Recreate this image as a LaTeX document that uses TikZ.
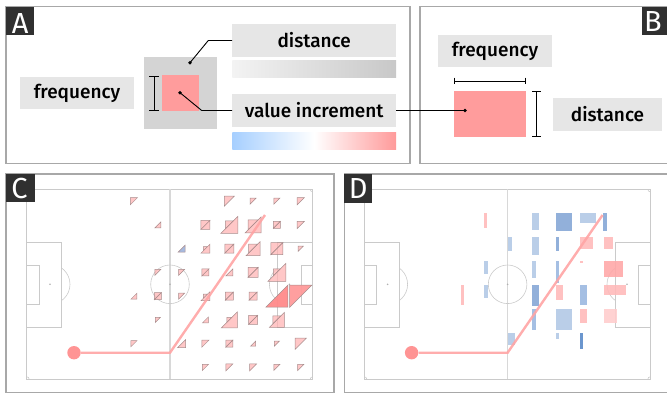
\documentclass[tikz,border=0pt]{standalone}
\usepackage{fontspec}
\setmainfont{Fira Sans}[UprightFont={* Medium}]
\newfontfamily\panellabfont{Fira Sans}
\definecolor{framec}{HTML}{A8A8A8}
\definecolor{gboxc}{HTML}{E6E6E6}
\definecolor{gsqc}{HTML}{D4D4D4}
\definecolor{pinkc}{HTML}{FF9C9C}
\definecolor{labc}{HTML}{303030}
\definecolor{pitchc}{HTML}{CACACA}
\definecolor{halfc}{HTML}{D8D8D8}
\definecolor{spotc}{HTML}{B0B0B0}
\definecolor{runc}{HTML}{FFA4A4}
\definecolor{ballc}{HTML}{FF9494}
\definecolor{trifill}{HTML}{FFB4B4}
\definecolor{triedge}{HTML}{A88C8C}
\definecolor{tristrong}{HTML}{FF8A8A}
\definecolor{trimid}{HTML}{FF9A9A}
\definecolor{triblue}{HTML}{9DB3DC}
\definecolor{barlb}{HTML}{A6CFFF}
\definecolor{barpk}{HTML}{FF9A9A}
\definecolor{barg1}{HTML}{F3F3F3}
\definecolor{barg2}{HTML}{C8C8C8}
\definecolor{bla}{HTML}{B3C9E6}
\definecolor{blb}{HTML}{9BB8E0}
\definecolor{blc}{HTML}{86A7D6}
\definecolor{bld}{HTML}{5B8BC9}
\definecolor{pka}{HTML}{FFCDCD}
\definecolor{pkb}{HTML}{FFBABA}
\definecolor{pkc}{HTML}{FFA8A8}

\newcommand{\celltri}[5]{%
  \pgfmathsetmacro{\trX}{26.7+23.83*(#1+0.5)}%
  \pgfmathsetmacro{\trY}{189.3+23.75*(#2+0.5)}%
  \pgfmathsetmacro{\trA}{#3/2}%
  \pgfmathsetmacro{\trB}{#4/2}%
  \ifdim #3pt>0pt
    \filldraw[#5] ({\trX-\trA},{\trY-\trA}) -- ({\trX+\trA},{\trY-\trA}) -- ({\trX-\trA},{\trY+\trA}) -- cycle;
  \fi
  \ifdim #4pt>0pt
    \filldraw[#5] ({\trX+\trB},{\trY+\trB}) -- ({\trX-\trB},{\trY+\trB}) -- ({\trX+\trB},{\trY-\trB}) -- cycle;
  \fi
}

\newcommand{\drawpitchat}[1]{%
\begin{scope}[xshift=#1pt]
  \draw[pitchl] (26.7,189.3) rectangle (312.7,379.3);
  \draw[halfl] (170,189.3) -- (170,379.3);
  \draw[pitchl] (170,284.3) circle[radius=19.3pt];
  \fill[spotc] (170,284.3) circle[radius=0.9pt];
  \draw[pitchl] (26.7,241.8) rectangle (61.7,326.8);
  \draw[pitchl] (26.7,264.8) rectangle (39,303.8);
  \fill[spotc] (50,284.3) circle[radius=0.9pt];
  \draw[pitchl] (277.3,241.8) rectangle (312.7,326.8);
  \draw[pitchl] (301,264.8) rectangle (312.7,303.8);
  \fill[spotc] (289.4,284.3) circle[radius=0.9pt];
  \begin{scope}
    \clip (61.7,250) rectangle (80,320);
    \draw[pitchl] (50,284.3) circle[radius=20pt];
  \end{scope}
  \begin{scope}
    \clip (259,250) rectangle (277.3,320);
    \draw[pitchl] (289.4,284.3) circle[radius=20pt];
  \end{scope}
  \begin{scope}
    \clip (26.7,189.3) rectangle (312.7,379.3);
    \foreach \px/\py in {26.7/189.3, 312.7/189.3, 26.7/379.3, 312.7/379.3}
      \draw[pitchl] (\px,\py) circle[radius=2.5pt];
  \end{scope}
\end{scope}}

\newcommand{\drawrun}[2]{%
\begin{scope}[xshift=#1pt]
  \coordinate (turn#2) at (170,352.7);
  \coordinate (end#2) at (265,215);
  \node[ball] (ball#2) at (74,352.7) {};
  \draw[runl] (ball#2) -- (turn#2) -- (end#2);
\end{scope}}

\begin{document}
\begin{tikzpicture}[x=1pt,y=-1pt,
  panel/.style={draw=framec, line width=1.1pt},
  labbox/.style={fill=labc, inner sep=0, draw=none},
  labtxt/.style={text=white, font=\panellabfont\fontsize{29}{31}\selectfont, anchor=base, inner sep=0},
  gbox/.style={fill=gboxc, inner sep=0, draw=none, font=\fontsize{19}{22}\selectfont},
  conn/.style={line width=0.9pt, draw=black},
  dotc/.style={circle, fill=black, inner sep=0, minimum size=3.6pt},
  brk/.style={line width=0.9pt, draw=black},
  pitchl/.style={draw=pitchc, line width=0.6pt},
  halfl/.style={draw=halfc, line width=1.4pt},
  runl/.style={draw=runc, line width=2.4pt, draw opacity=0.9},
  ball/.style={circle, fill=ballc, inner sep=0, minimum size=13.4pt},
  tp/.style={fill=trifill, fill opacity=0.75, draw=triedge, line width=0.5pt},
  ts/.style={fill=tristrong, fill opacity=0.95, draw=triedge, line width=0.5pt},
  tm/.style={fill=trimid, fill opacity=0.95, draw=triedge, line width=0.5pt},
  tb/.style={fill=triblue, fill opacity=0.9, draw=triedge, line width=0.5pt}
]
\useasboundingbox (0,0) rectangle (667,394);
\clip (0,0) rectangle (667,394);

% ---------- Panel A ----------
\draw[panel] (6,6.7) rectangle (410,163.3);
\node[labbox, minimum width=28.3pt, minimum height=28.3pt] (boxA) at (20.2,20.9) {};
\node[labtxt] (letA) at (20.2,33.3) {A};

\node[gbox, minimum width=114pt, minimum height=32pt] (freqA) at (77,93.3) {frequency};
\node[fill=gsqc, inner sep=0, minimum width=72.4pt, minimum height=72pt] (greyA) at (180.5,93.3) {};
\node[fill=pinkc, inner sep=0, minimum width=36.7pt, minimum height=36pt] (pinkA) at (180.7,93.3) {};
\draw[brk] (149.3,76) -- (158.7,76) (154,76) -- (154,110.7) (149.3,110.7) -- (158.7,110.7);

\node[gbox, minimum width=163.7pt, minimum height=32.4pt] (distA) at (314.2,40.5) {distance};
\node[inner sep=0, minimum width=163.7pt, minimum height=16.7pt, left color=barg1, right color=barg2] (barA) at (314.2,69.3) {};
\node[gbox, minimum width=163.7pt, minimum height=32.4pt] (valA) at (314.2,110.5) {value increment};
\node[inner sep=0, minimum width=163.7pt, minimum height=16.7pt, left color=barlb, right color=barpk, middle color=white] (barV) at (314.2,140.7) {};

\node[dotc] (dotD) at (190,62.7) {};
\coordinate (kD) at (208.3,40.5);
\draw[conn] (dotD.center) -- (kD) -- (distA.west);
\node[dotc] (dotV) at (180,92.7) {};
\coordinate (kV) at (201.7,110.5);
\draw[conn] (dotV.center) -- (kV) -- (valA.west);

% ---------- Panel B ----------
\draw[panel] (420,6.7) rectangle (672,163.3);
\node[labbox, minimum width=25pt, minimum height=27.7pt] (boxB) at (654.5,21.2) {};
\node[labtxt] (letB) at (653,31.8) {B};

\node[gbox, minimum width=113.4pt, minimum height=32.3pt] (freqB) at (495,51.2) {frequency};
\node[fill=pinkc, inner sep=0, minimum width=71.7pt, minimum height=45.7pt] (pinkB) at (489.9,113.9) {};
\node[gbox, minimum width=108.4pt, minimum height=32.4pt] (distB) at (607.5,114.5) {distance};
\draw[brk] (454,77.7) -- (454,84.3) (454,81) -- (525.7,81) (525.7,77.7) -- (525.7,84.3);
\draw[brk] (532.3,91) -- (541.1,91) (536.7,91) -- (536.7,136.7) (532.3,136.7) -- (541.1,136.7);
\node[dotc] (dotB) at (465,110.5) {};
\draw[conn] (valA.east) -- (dotB.center);

% ---------- Panel C ----------
\draw[panel] (6,174) rectangle (334,392.6);
\drawpitchat{0}
\foreach \tcol/\trow/\tsa/\tsb/\tst in {
  4/0/7/0/tp, 8/0/10/0/tp, 9/0/6/0/tp, 10/0/6/0/tp, 11/0/7/0/tp,
  5/1/0/6/tp, 7/1/9/9/tp, 8/1/8/17/tp, 9/1/10/16/tp, 10/1/7/7/tp, 11/1/7/0/tp,
  6/2/0/7/tb, 7/2/4/9/tp, 8/2/9/9/tp, 9/2/9/14/tp, 10/2/12/12/tp, 11/2/5/0/tp,
  5/3/6/0/tp, 6/3/6/0/tp, 7/3/7/7/tp, 8/3/0/7/tp, 9/3/10/10/tp, 10/3/7/18/tp,
  4/4/0/6/tp, 5/4/7/7/tp, 6/4/6/0/tp, 7/4/4/9/tp, 8/4/8/8/tp, 9/4/8/8/tp, 10/4/0/22/ts, 11/4/22/0/tm,
  5/5/5/0/tp, 7/5/0/6/tp, 8/5/5/16/tp, 9/5/9/9/tp, 10/5/8/15/tp,
  4/6/6/0/tp, 6/6/0/8/tp, 7/6/7/0/tp, 8/6/7/7/tp, 9/6/0/5/tp, 10/6/5/0/tp, 11/6/11/0/tp,
  7/7/6/0/tp, 8/7/7/0/tp, 9/7/7/0/tp, 10/7/6/0/tp, 11/7/6/0/tp}
  {\celltri{\tcol}{\trow}{\tsa}{\tsb}{\tst}}
\drawrun{0}{C}
\node[labbox, minimum width=29pt, minimum height=28pt] (boxC) at (20.5,188) {};
\node[labtxt] (letC) at (19.5,198.2) {C};

% ---------- Panel D ----------
\draw[panel] (344.3,174) rectangle (672,392.7);
\drawpitchat{337.6}
\foreach \xa/\ya/\xb/\yb/\cc in {
  484.3/213/487.3/228/pkb, 532.3/213/539/229.7/bla, 556/213/572/230.7/blc,
  580/213/595.7/223/bla, 603.3/213/606.7/230.7/blc,
  508.3/237.3/511.7/251.3/bla, 532.3/237.3/539/254.7/bla, 556/237.3/559.3/251.3/blc,
  580/237.3/592.7/249/pkb, 604/237.3/613.3/249/pkb,
  484.3/261.3/487.7/274/bla, 532.3/261.3/535.7/278/bla, 556/261.3/559.3/283/blb,
  580/260.7/583.3/263/pkb, 604/261.3/622.7/277.3/pkc,
  460.7/285.3/464/304.7/pkb, 484.3/285.3/487.7/298/bla, 532.3/285.3/539/306/blc,
  556/285.3/562.7/300.3/pkb, 580/285.3/586.7/304.7/blb, 604/285.3/626/295.3/pkb,
  532.3/308.7/535.7/330.3/blb, 556/308.7/572/330.3/bla, 580/308.7/586.7/322.7/pkb,
  604/308.7/616.7/322.7/pka,
  508.3/332.7/515/345.3/bla, 556/332.7/559.3/339.3/bla, 580/332.7/583.3/348.7/bld}
  {\fill[\cc, fill opacity=0.9] (\xa,\ya) rectangle (\xb,\yb);}
\drawrun{337.6}{D}
\node[labbox, minimum width=28pt, minimum height=28.7pt] (boxD) at (358.3,188.35) {};
\node[labtxt] (letD) at (358.3,198.2) {D};
\end{tikzpicture}
\end{document}
